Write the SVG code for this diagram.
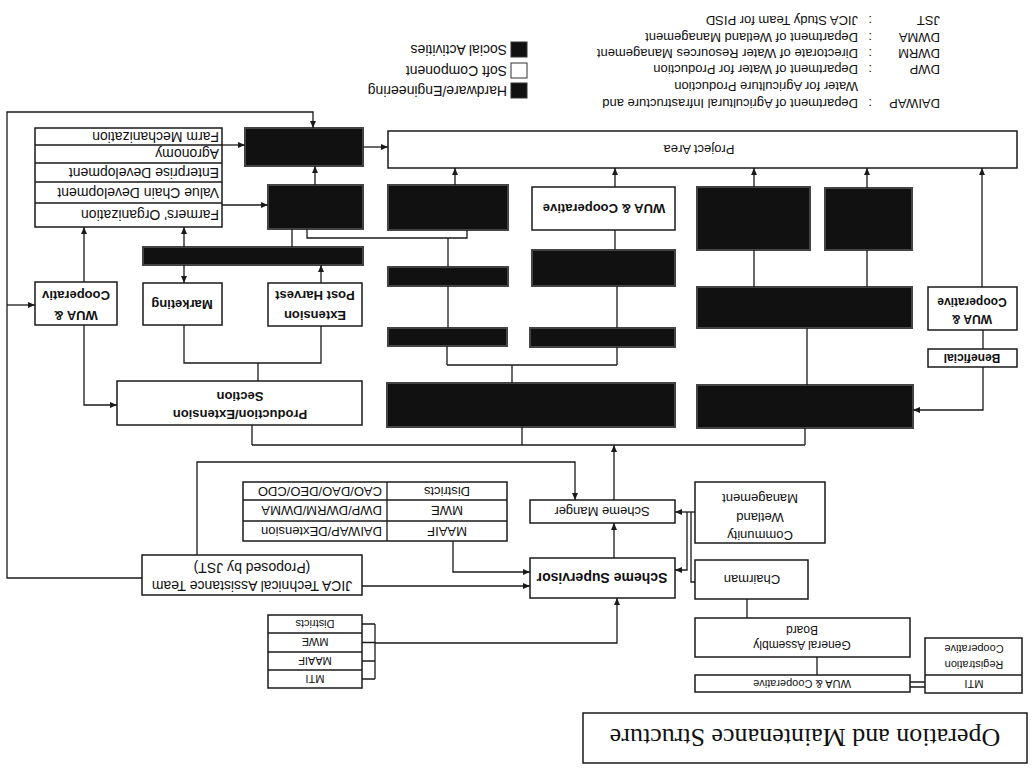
<svg xmlns="http://www.w3.org/2000/svg" width="1032" height="775" viewBox="0 0 1032 775">
<defs>
<marker id="arr" markerUnits="userSpaceOnUse" markerWidth="8" markerHeight="6" refX="7" refY="3" orient="auto"><path d="M0,0 L7,3 L0,6 z" fill="#1a1a1a"/></marker>
<style>
.b{fill:#fff;stroke:#1a1a1a;stroke-width:1.5}
.k{fill:#111;stroke:#444;stroke-width:2}
.c{fill:none;stroke:#1a1a1a;stroke-width:1.3}
.a{fill:none;stroke:#1a1a1a;stroke-width:1.3;marker-end:url(#arr)}
text{font-family:"Liberation Sans",Arial,sans-serif;fill:#111;font-size:13px}
.m{text-anchor:middle}
.bd{font-weight:bold}
.s{font-size:11px}
.sm{font-size:12px}
.ab{font-size:13px}
.lg{font-size:14px}
</style>
</defs>
<rect width="1032" height="775" fill="#fff"/>
<g transform="rotate(180 516 387.5)">
<g id="title"><rect class="b" x="5" y="12" width="444" height="50"/><text x="227" y="46" class="m" style="font-family:'Liberation Serif','Times New Roman',serif;font-size:26px">Operation and Maintenance Structure</text></g>
<g id="legend">
<rect x="505" y="677" width="16" height="15" fill="#111" stroke="#333"/><text x="525" y="689" class="lg">Hardware/Engineering</text>
<rect x="505" y="697" width="16" height="15" fill="#fff" stroke="#333"/><text x="525" y="709" class="lg">Soft Component</text>
<rect x="505" y="718" width="16" height="15" fill="#111" stroke="#333"/><text x="525" y="730" class="lg">Social Activities</text>
</g>
<g id="abbrev">
<text x="92" y="676" class="ab">DAIWAP</text><text x="160" y="676" class="ab">:</text><text x="174" y="676" class="ab">Department of Agricultural Infrastructure and</text>
<text x="174" y="693" class="ab">Water for Agriculture Production</text>
<text x="92" y="710" class="ab">DWP</text><text x="160" y="710" class="ab">:</text><text x="174" y="710" class="ab">Department of Water for Production</text>
<text x="92" y="726" class="ab">DWRM</text><text x="160" y="726" class="ab">:</text><text x="174" y="726" class="ab">Directorate of Water Resources Management</text>
<text x="92" y="742" class="ab">DWMA</text><text x="160" y="742" class="ab">:</text><text x="174" y="742" class="ab">Department of Wetland Management</text>
<text x="92" y="759" class="ab">JST</text><text x="160" y="759" class="ab">:</text><text x="174" y="759" class="ab">JICA Study Team for PISD</text>
</g>
<g id="mti-reg"><rect class="b" x="10" y="82" width="97" height="55"/><line class="c" x1="10" y1="100" x2="107" y2="100"/><text x="58" y="95" class="m s">MTI</text><text x="58" y="114" class="m s">Registration</text><text x="58" y="130" class="m s">Cooperative</text></g>
<g id="wua-bottom"><rect class="b" x="122" y="83" width="215" height="17"/><text x="230" y="95.5" class="m s">WUA &amp; Cooperative</text></g>
<g id="ga-board"><rect class="b" x="122" y="118" width="215" height="39"/><text x="230" y="134" class="m sm">General Assembly</text><text x="230" y="149" class="m sm">Board</text></g>
<g id="chairman"><rect class="b" x="224" y="176" width="113" height="39"/><text x="280" y="200" class="m">Chairman</text></g>
<g id="wetland"><rect class="b" x="207" y="232" width="130" height="61"/><text x="272" y="244.5" class="m">Community</text><text x="272" y="262.5" class="m">Wetland</text><text x="272" y="281.5" class="m">Management</text></g>
<g id="supervisor"><rect class="b" x="357" y="177" width="145" height="40"/><text x="430" y="202" class="m bd" style="font-size:14px">Scheme Supervisor</text></g>
<g id="manager"><rect class="b" x="357" y="252" width="145" height="23"/><text x="430" y="268" class="m">Scheme Manger</text></g>
<g id="ministries"><rect class="b" x="670" y="87" width="94" height="73"/><path class="c" d="M670,105 H764 M670,123 H764 M670,142 H764"/><text x="717" y="100" class="m s">MTI</text><text x="717" y="118" class="m s">MAAIF</text><text x="717" y="137" class="m s">MWE</text><text x="717" y="155" class="m s">Districts</text></g>
<g id="table"><rect class="b" x="525" y="234" width="264" height="59"/><path class="c" d="M525,254 H789 M525,275 H789 M645,234 V293"/>
<text x="585" y="248.5" class="m">MAAIF</text><text x="585" y="269" class="m">MWE</text><text x="585" y="288" class="m">Districts</text>
<text x="650" y="248.5">DAIWAP/DExtension</text><text x="650" y="269">DWP/DWRM/DWMA</text><text x="650" y="288">CAO/DAO/DEO/CDO</text></g>
<g id="jica"><rect class="b" x="670" y="180" width="220" height="40"/><text x="780" y="194" class="m lg">JICA Technical Assistance Team</text><text x="780" y="212" class="m lg">(Proposed by JST)</text></g>
<g id="adv-land"><rect class="k" x="119" y="347" width="216" height="43"/></g>
<g id="big-black"><rect class="k" x="357" y="348" width="288" height="44"/></g>
<g id="production"><rect class="b" x="670" y="350" width="245" height="44"/><text x="792" y="365" class="m bd">Production/Extension</text><text x="792" y="383" class="m bd">Section</text></g>
<g id="beneficial"><rect class="b" x="15" y="408" width="89" height="18"/><text x="60" y="421.5" class="m bd sm">Beneficial</text></g>
<g id="bar-b"><rect class="k" x="357" y="428" width="145" height="19"/></g>
<g id="bar-a"><rect class="k" x="525" y="429" width="119" height="18"/></g>
<g id="land-use"><rect class="k" x="120" y="447" width="215" height="41"/></g>
<g id="wua-right"><rect class="b" x="15" y="445" width="89" height="43"/><text x="60" y="460" class="m bd sm">WUA &amp;</text><text x="60" y="477" class="m bd sm">Cooperative</text></g>
<g id="extension"><rect class="b" x="670" y="449" width="94" height="43"/><text x="717" y="464.5" class="m bd">Extension</text><text x="717" y="484.5" class="m bd">Post Harvest</text></g>
<g id="marketing"><rect class="b" x="810" y="450" width="79" height="42"/><text x="850" y="475.5" class="m bd">Marketing</text></g>
<g id="wua-left"><rect class="b" x="915" y="450" width="82" height="43"/><text x="956" y="464.5" class="m bd">WUA &amp;</text><text x="956" y="484.5" class="m bd">Cooperativ</text></g>
<g id="box-c"><rect class="k" x="357" y="489" width="143" height="36"/></g>
<g id="training"><rect class="k" x="524" y="489" width="120" height="19"/></g>
<g id="long-bar"><rect class="k" x="669" y="510" width="220" height="18"/></g>
<g id="box-d"><rect class="k" x="222" y="525" width="113" height="63"/></g>
<g id="box-e"><rect class="k" x="120" y="525" width="87" height="62"/></g>
<g id="wua-mid"><rect class="b" x="357" y="545" width="143" height="43"/><text x="428" y="571" class="m bd">WUA &amp; Cooperative</text></g>
<g id="seminar"><rect class="k" x="524" y="545" width="120" height="45"/></g>
<g id="box-2"><rect class="k" x="669" y="546" width="95" height="44"/></g>
<g id="activities"><rect class="b" x="810" y="548" width="187" height="99"/><path class="c" d="M810,572 H997 M810,593 H997 M810,612 H997 M810,630 H997"/>
<text x="813" y="565" class="lg">Farmers' Organization</text><text x="813" y="587.5" class="lg">Value Chain Development</text><text x="813" y="607.5" class="lg">Enterprise Development</text><text x="813" y="626" class="lg">Agronomy</text><text x="813" y="643.5" class="lg">Farm Mechanization</text></g>
<g id="project-area"><rect class="b" x="15" y="607" width="629" height="37"/><text x="333" y="630.5" class="m">Project Area</text></g>
<g id="box-1"><rect class="k" x="669" y="609" width="118" height="38"/></g>
<g id="connectors">
<path class="a" d="M890,197 H1025 V663 H719 V647"/>
<path class="a" d="M1025,470 H997"/>
<path class="a" d="M670,189 H502"/>
<path class="a" d="M835,220 V313 H457 V275"/>
<path class="a" d="M579,234 V203 H502"/>
<path class="c" d="M670,96 H657 M670,114 H657 M670,132.5 H657 M670,151 H657 M657,96 V151"/>
<path class="a" d="M657,132 H415 V177"/>
<path class="a" d="M418,217 V252"/>
<path class="a" d="M418,275 V330"/>
<path class="a" d="M337,263 H357"/>
<path class="c" d="M337,193 H341 V263"/>
<path class="a" d="M345,263 V205 H357"/>
<path class="c" d="M285,176 V157"/>
<path class="c" d="M215,118 V100"/>
<path class="c" d="M107,88 H122 M107,93 H122"/>
<path class="c" d="M227,330 H780 M780,330 V350 M510,330 V348 M227,330 V347"/>
<path class="c" d="M520,392 V410 M415,410 H585 M415,410 V428 M585,410 V429"/>
<path class="c" d="M415,447 V489 M584,447 V489"/>
<path class="c" d="M417,525 V545"/>
<path class="a" d="M417,588 V607"/>
<path class="a" d="M577,590 V607"/>
<path class="a" d="M278,588 V607"/>
<path class="a" d="M165,587 V607"/>
<path class="a" d="M50,488 V607"/>
<path class="c" d="M278,525 V488 M165,525 V488"/>
<path class="c" d="M225,447 V390"/>
<path class="c" d="M49,445 V426"/>
<path class="a" d="M49,408 V365 H119"/>
<path class="c" d="M725,546 V537 H565 V545 M584,537 V508"/>
<path class="c" d="M740,528 V546"/>
<path class="a" d="M717,590 V609"/>
<path class="a" d="M810,570 H764"/>
<path class="a" d="M810,630 H787"/>
<path class="a" d="M669,628 H644"/>
<path class="a" d="M848,528 V548"/>
<path class="a" d="M848,510 V492"/>
<path class="a" d="M711,492 V510"/>
<path class="c" d="M848,450 V412 H711 V449 M774,412 V394"/>
<path class="a" d="M948,450 V370 H915"/>
<path class="a" d="M948,493 V548"/>
</g>
</g>
</svg>
